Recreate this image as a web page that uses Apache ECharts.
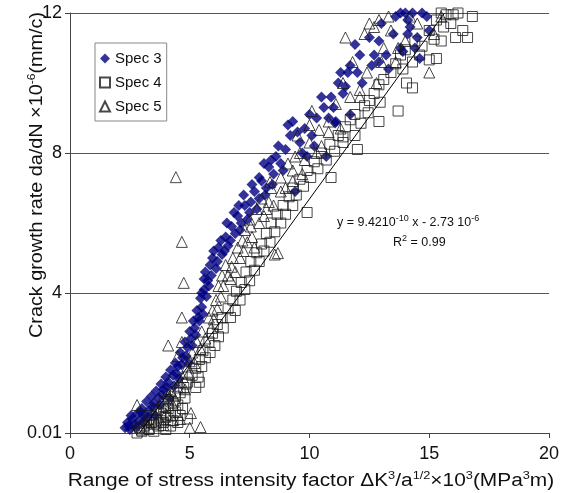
<!DOCTYPE html>
<html><head><meta charset="utf-8">
<script src="https://cdn.jsdelivr.net/npm/echarts@6/dist/echarts.min.js"></script>
<style>html,body{margin:0;padding:0;background:#fff}#c{width:562px;height:493px}</style>
</head><body><div id="c"></div>
<script>
const xTicks = [0, 5, 10, 15, 20];
const yTicks = [0, 4, 8, 12];
const yTickLabels = ['0.01', '4', '8', '12'];
const seriesNames = ['Spec 3', 'Spec 4', 'Spec 5'];

const spec3 = [[2.3,0.15],[2.4,0.3],[2.5,0.1],[2.6,0.4],[2.7,0.25],[2.8,0.55],[2.9,0.35],[3.0,0.7],[3.1,0.5],[3.2,0.9],[3.3,0.65],[3.4,1.05],[3.5,0.85],[3.6,1.2],[3.7,1.0],[3.8,1.4],[3.9,1.25],[4.0,1.6],[4.1,1.45],[4.2,1.8],[4.3,1.65],[4.4,2.0],[4.5,1.9],[4.6,2.3],[4.7,2.15],[4.8,2.6],[4.9,2.45],[5.0,2.9],[5.05,2.7],[5.15,3.2],[5.2,3.0],[5.3,3.5],[5.35,3.3],[5.45,3.85],[5.5,3.6],[5.6,4.1],[5.65,4.6],[5.75,4.35],[5.85,4.8],[5.95,5.0],[6.1,4.7],[6.2,5.3],[6.35,5.1],[6.5,5.6],[6.6,5.35],[6.75,5.9],[6.9,5.7],[7.0,6.2],[7.15,6.0],[7.3,6.5],[7.5,6.3],[7.55,6.6],[7.7,6.9],[7.9,6.7],[8.0,7.2],[8.2,7.0],[8.3,7.6],[8.5,7.4],[8.6,7.9],[8.8,7.7],[9.1,8.8],[9.0,8.1],[9.2,8.5],[9.4,6.9],[9.6,8.3],[9.9,7.9],[9.8,8.7],[10.1,8.5],[10.3,9.0],[10.7,7.9],[10.6,9.3],[11.07,8.86],[10.9,9.6],[11.4,9.7],[11.7,9.1],[11.1,8.9],[11.2,10.0],[11.6,10.3],[12.1,10.8],[11.7,10.5],[12.0,10.3],[12.7,10.8],[12.9,10.6],[13.3,10.4],[12.9,11.2],[13.6,11.9],[14.1,11.8],[13.8,11.0],[14.9,11.9],[14.1,11.4],[15.0,11.5],[14.4,11.0],[14.6,10.7],[14.3,12.0],
[2.45,0.2],[2.55,0.5],[2.75,0.15],[2.95,0.6],[3.05,0.3],[3.25,0.45],[3.45,0.75],[3.55,0.5],[3.75,0.8],[3.85,1.1],[4.05,1.3],[4.15,1.0],[4.35,1.35],[4.45,1.7],[4.55,1.55],[4.65,1.95],[4.85,2.2],[4.95,2.0],[5.1,2.5],[5.25,2.8],[5.4,3.2],[5.55,3.4],[5.5,4.0],[5.6,4.4],[5.7,3.9],[5.8,4.2],[5.9,4.5],[6.0,5.2],[6.15,4.9],[6.3,5.5],[6.45,5.2],[6.55,6.0],[6.7,5.5],[6.85,6.3],[7.05,6.5],[7.1,5.8],[7.25,6.8],[7.4,6.1],[7.6,7.1],[7.8,6.4],[7.9,7.3],[8.1,7.7],[8.15,6.8],[8.4,7.8],[8.45,7.1],[8.7,8.2],[8.9,7.5],[9.3,8.9],[9.5,8.6],[9.7,8.0],[10.0,9.1],[10.2,8.2],[10.5,9.6],[10.8,9.0],[11.0,9.3],[11.3,10.3],[11.5,9.9],[11.9,11.1],[12.2,10.0],[12.5,11.3],[12.6,10.5],[13.0,11.7],[13.2,10.8],[13.5,11.4],[13.9,10.9],[14.2,11.6],[14.5,11.3],[14.7,12.0],[14.0,12.0],[13.8,12.0]];

const spec4 = [[2.8,0.0],[2.9,0.15],[3.0,0.05],[3.1,0.2],[3.2,0.35],[3.3,0.1],[3.3,0.5],[3.4,0.3],[3.5,0.05],[3.5,0.25],[3.6,0.4],[3.6,0.65],[3.7,0.2],[3.8,0.55],[3.8,0.35],[3.9,0.3],[3.9,0.75],[4.0,0.1],[4.0,0.45],[4.1,0.7],[4.1,0.95],[4.2,0.2],[4.2,0.5],[4.3,0.85],[4.3,0.35],[4.4,0.6],[4.4,1.05],[4.5,0.3],[4.5,0.8],[4.6,1.15],[4.6,0.5],[4.7,0.7],[4.75,1.3],[4.8,1.0],[4.9,0.4],[4.9,1.45],
[4.85,1.4],[5.1,1.65],[5.25,1.3],[5.25,1.85],[5.35,1.6],[5.4,2.1],[5.5,1.9],[5.55,2.35],[5.4,1.45],[5.65,2.15],[5.8,2.6],[5.85,2.3],[5.95,2.85],[6.05,2.5],[6.15,3.1],[6.2,2.75],[6.35,3.3],[6.4,3.0],
[6.6,3.55],[6.7,3.3],[6.8,3.8],[6.9,3.5],[6.95,4.05],[7.1,3.8],[7.15,4.3],[7.3,4.1],[7.35,4.6],[7.5,4.35],[7.55,4.9],[7.7,4.65],[7.8,5.15],[7.9,4.9],[8.0,5.4],[8.1,5.2],[8.2,5.7],[8.35,5.45],[8.4,6.0],[8.55,5.75],[8.65,6.25],[8.8,6.0],[8.9,6.5],[9.0,6.25],[9.15,6.75],[9.3,6.5],
[9.3,7.0],[9.45,6.8],[9.6,7.25],[9.75,7.05],[9.9,7.5],[10.05,7.3],[9.9,6.3],[10.2,7.75],[10.35,7.55],[10.5,8.0],[10.7,7.8],[10.85,8.25],[10.9,7.3],[11.05,8.05],[11.2,8.5],[11.4,8.3],[11.5,8.75],[11.4,8.46],[11.7,8.95],[12.0,8.1],[11.9,8.5],[11.9,9.1],[12.15,8.85],[12.3,9.35],[12.5,9.5],[12.45,9.15],[12.9,8.9],[12.7,9.7],[12.95,9.45],
[12.9,9.95],[13.1,10.1],[13.7,9.2],[13.4,10.3],[14.05,10.0],[14.3,9.86],[13.6,10.55],[13.9,10.4],[13.8,10.8],[14.0,10.95],[14.3,10.6],[14.4,11.2],[14.6,10.8],[14.7,11.05],[15.0,10.66],[15.3,10.7],[15.0,11.5],[15.2,11.25],[15.5,11.2],[15.3,11.8],[15.6,11.6],[15.7,11.95],[15.9,11.7],[16.1,11.3],[16.0,11.95],[16.4,11.5],[16.6,11.3],[16.8,11.9],[16.2,12.0],[15.5,12.0]];

const spec5 = [[4.42,7.31],[4.67,5.46],[4.75,4.29],[4.67,3.3],[4.1,2.5],[4.67,2.6],[4.5,2.2],[2.8,0.8],[5.05,0.57],[5.45,0.17],[5.0,0.15],[4.3,0.37],[3.9,0.23],[3.0,0.1],[3.6,0.3],[4.0,0.55],[4.6,0.4],[3.2,0.3],[3.5,0.6],[3.8,0.9],[4.1,1.1],[4.3,0.8],[4.5,1.3],[4.7,1.6],[4.9,1.9],[5.1,2.3],[5.3,2.6],[5.5,2.9],
[5.8,3.3],[5.95,3.5],[6.1,3.8],[6.2,4.2],[6.35,4.5],[6.5,4.8],[6.7,4.4],[6.8,5.0],[7.0,5.3],[7.2,5.5],[7.3,5.8],[7.5,6.1],[7.6,5.6],[7.8,6.4],[8.0,6.7],[8.2,6.4],[8.4,7.0],[8.35,7.17],[8.8,7.3],[8.55,5.1],[8.68,5.14],[9.1,7.7],[9.3,7.5],[9.5,8.5],[9.6,8.0],[9.8,7.8],[10.0,8.8],[10.1,9.2],[10.4,8.66],[10.5,8.2],[10.8,8.9],[11.1,9.4],[11.4,10.0],[12.1,9.8],[12.1,9.6],[12.8,10.0],[11.5,11.3],[12.5,11.7],[12.7,11.6],[13.4,11.5],[13.1,11.0],[13.6,10.6],[14.0,11.2],[14.5,11.7],[15.0,10.3],[15.2,11.4],[15.5,11.9],[13.3,11.9],
[3.3,0.15],[3.7,0.45],[4.0,0.75],[4.2,1.2],[4.4,0.95],[4.6,1.45],[4.8,1.25],[4.95,1.7],[5.0,2.05],[5.2,2.0],[5.45,2.4],[5.65,2.7],
[5.9,3.0],[6.0,3.25],[6.15,3.55],[6.3,3.9],[6.4,4.2],[6.6,4.5],[6.75,4.75],[6.9,4.6],[7.1,5.0],[7.25,5.2],[7.4,5.45],[7.55,5.9],[7.7,5.3],[7.9,6.0],[8.1,6.2],[8.3,6.6],[8.5,6.5],[8.8,6.9],[9.0,7.0],[9.3,7.2],[9.4,7.9],[9.7,7.4],[10.0,8.3],[10.3,8.0],[10.8,8.6],[11.3,8.7],[11.7,9.6],[12.4,10.3],[13.0,10.6],[11.8,10.6],[12.3,11.4],[12.9,11.8],[13.7,11.0],[14.2,11.9]];

const trendX = [2.9, 15.64];
const trendY = [0, 12];

const chart = echarts.init(document.getElementById('c'), null, {renderer: 'canvas'});
const font = 'Liberation Sans, Arial, sans-serif';
const hollow = {color: 'rgba(0,0,0,0)', borderColor: '#1a1a1a', borderWidth: 1};
const supStyle = {fontSize: 9, verticalAlign: 'top', lineHeight: 18, fontFamily: font, color: '#111'};
const supBig = {fontSize: 11, verticalAlign: 'top', lineHeight: 22, fontFamily: font, color: '#111'};

chart.setOption({
  animation: false,
  backgroundColor: '#fff',
  grid: {left: 70, right: 8, top: 13, bottom: 60, containLabel: false},
  xAxis: {
    type: 'value', min: 0, max: 20, interval: 5,
    axisLine: {show: true, lineStyle: {color: '#444', width: 1}},
    axisTick: {show: true, inside: false, length: 5, lineStyle: {color: '#444'}},
    axisLabel: {fontSize: 18, color: '#111', fontFamily: font, margin: 12,
      formatter: v => xTicks.includes(v) ? String(v) : ''},
    splitLine: {show: false}
  },
  yAxis: {
    type: 'value', min: 0, max: 12, interval: 4,
    axisLine: {show: true, lineStyle: {color: '#444', width: 1}},
    axisTick: {show: true, inside: false, length: 5, lineStyle: {color: '#444'}},
    axisLabel: {fontSize: 18, color: '#111', fontFamily: font, margin: 8,
      formatter: v => { const i = yTicks.indexOf(v); return i >= 0 ? yTickLabels[i] : ''; }},
    splitLine: {show: true, lineStyle: {color: '#555', width: 1}}
  },
  legend: {
    orient: 'vertical', left: 95, top: 43,
    data: seriesNames,
    itemWidth: 10, itemHeight: 10, itemGap: 9,
    padding: [8, 5, 7, 4],
    backgroundColor: '#fff', borderColor: '#888', borderWidth: 1,
    textStyle: {fontSize: 15, color: '#111', fontFamily: font}
  },
  series: [
    {name: seriesNames[0], type: 'scatter', symbol: 'diamond', symbolSize: 11, clip: false,
      itemStyle: {color: '#000080'}, data: spec3, z: 2},
    {name: seriesNames[1], type: 'scatter', symbol: 'rect', symbolSize: 10, clip: false,
      itemStyle: hollow, data: spec4, z: 3},
    {name: seriesNames[2], type: 'scatter', symbol: 'triangle', symbolSize: 11, clip: false,
      itemStyle: hollow, data: spec5, z: 4},
    {name: 'trend', type: 'line', data: trendX.map((x, i) => [x, trendY[i]]),
      showSymbol: false, symbol: 'none', lineStyle: {color: '#000', width: 1}, z: 5, silent: true}
  ],
  graphic: [
    {type: 'text', left: 337, top: 214, z: 10, style: {
      text: 'y = 9.4210{s|-10} x - 2.73 10{s|-6}', fontSize: 12.5, fontFamily: font, fill: '#111',
      lineHeight: 18, rich: {s: supStyle}}},
    {type: 'text', left: 393, top: 234, z: 10, style: {
      text: 'R{s|2} = 0.99', fontSize: 12.5, fontFamily: font, fill: '#111',
      lineHeight: 18, rich: {s: supStyle}}},
    {type: 'text', x: 311, y: 481, scaleX: 1.16, z: 10, style: {
      text: 'Range of stress intensity factor \u0394K{s|3}/a{s|1/2}\u00d710{s|3}(MPa{s|3}m)',
      fontSize: 18, fontFamily: font, fill: '#111', align: 'center', verticalAlign: 'middle',
      lineHeight: 22, rich: {s: supBig}}},
    {type: 'text', x: 37, y: 175, rotation: Math.PI / 2, scaleX: 1.1, z: 10, style: {
      text: 'Crack growth rate da/dN \u00d710{s|-6}(mm/c)',
      fontSize: 18, fontFamily: font, fill: '#111', align: 'center', verticalAlign: 'middle',
      lineHeight: 22, rich: {s: supBig}}}
  ]
});
</script></body></html>
